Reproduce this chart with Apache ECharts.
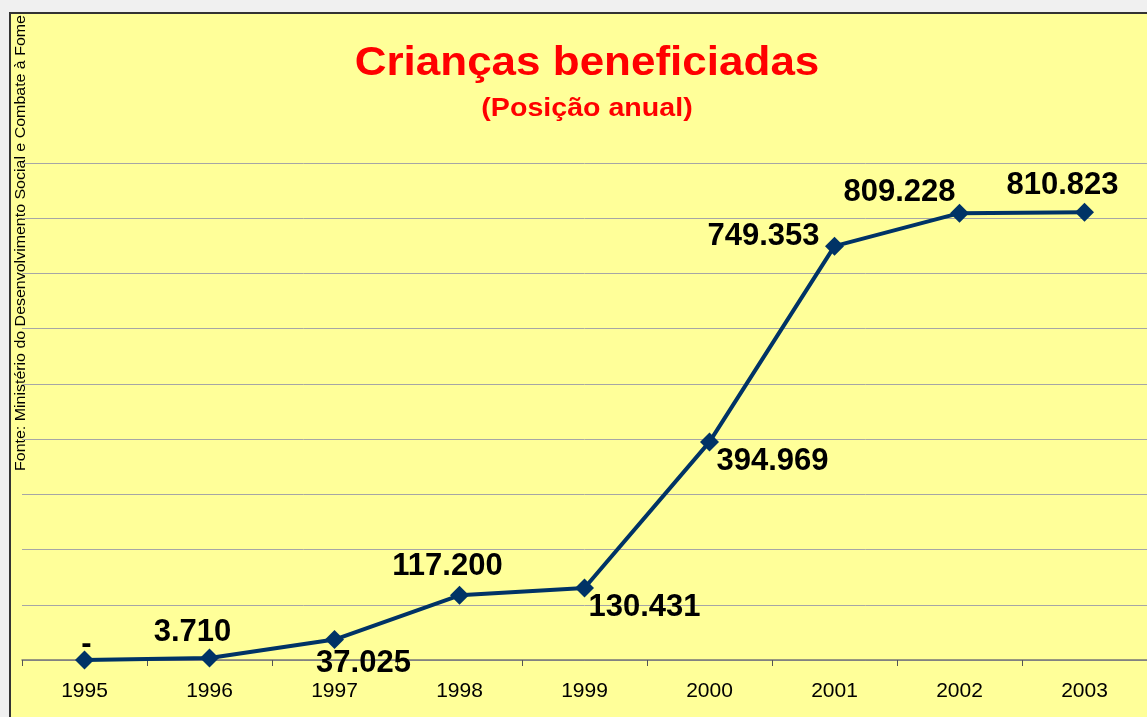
<!DOCTYPE html>
<html>
<head>
<meta charset="utf-8">
<script src="https://cdn.jsdelivr.net/npm/echarts@6/dist/echarts.min.js"></script>
<style>
    html, body { margin: 0; padding: 0; background: #f0f0f0; }
    #bg {
        position: absolute; left: 9px; top: 12px; right: 0; bottom: 0;
        background: #ffff99;
        border-left: 2px solid #333; border-top: 2px solid #333;
    }
    #chart { position: absolute; left: 0; top: 0; width: 1147px; height: 717px; }
</style>
</head>
<body>
<div id="bg"></div>
<div id="chart"></div>
<script>
// anos
const years = ['1995', '1996', '1997', '1998', '1999', '2000', '2001', '2002', '2003']
// crianças beneficiadas (posição anual)
const children = [0, 3710, 37025, 117200, 130431, 394969, 749353, 809228, 810823]
// eixo y
const yMin = 0
const yMax = 900000
const yStep = 100000

// deslocamento de cada rótulo em relação ao marcador
const labelOffsets = [[2, -16], [-17, -25], [29, 24], [-12, -29], [60, 19], [63, 20], [-71, -10], [-60, -21], [-22, -27]]

// 117200 -> "117.200", 0 -> "-"
const fmt = v => v === 0 ? '-' : String(v).replace(/\B(?=(\d{3})+(?!\d))/g, '.')

const myChart = echarts.init(document.getElementById('chart'))
const option = {
    backgroundColor: 'transparent',
    animation: false,
    grid: { left: 22, right: -4, top: 163, bottom: 57 },
    graphic: [
        {
            type: 'text', x: 587, y: 64, scaleX: 1.1,
            style: {
                text: 'Crianças beneficiadas', fill: '#ff0000',
                font: 'bold 40px "Liberation Sans", Arial, sans-serif',
                align: 'center', verticalAlign: 'middle'
            }
        },
        {
            type: 'text', x: 587, y: 109, scaleX: 1.1,
            style: {
                text: '(Posição anual)', fill: '#ff0000',
                font: 'bold 26px "Liberation Sans", Arial, sans-serif',
                align: 'center', verticalAlign: 'middle'
            }
        },
        {
            type: 'text', x: 21, y: 243, rotation: Math.PI / 2, scaleX: 1.14,
            style: {
                text: 'Fonte: Ministério do Desenvolvimento Social e Combate à Fome', fill: '#000',
                font: '14px "Liberation Sans", Arial, sans-serif',
                align: 'center', verticalAlign: 'middle'
            }
        }
    ],
    xAxis: {
        type: 'category',
        data: years,
        boundaryGap: true,
        axisLine: { lineStyle: { color: '#777', width: 1.5 } },
        axisTick: { show: true, inside: false, length: 6, lineStyle: { color: '#555' } },
        axisLabel: {
            color: '#000', fontSize: 21, margin: 21,
            fontFamily: '"Liberation Sans", Arial, sans-serif'
        }
    },
    yAxis: {
        type: 'value',
        min: yMin,
        max: yMax,
        interval: yStep,
        axisLabel: { show: false },
        axisLine: { show: false },
        axisTick: { show: false },
        splitLine: { lineStyle: { color: '#a6a6a6', width: 1 } }
    },
    series: [
        {
            type: 'line',
            data: children.map((v, i) => ({
                value: v,
                label: { offset: labelOffsets[i] }
            })),
            symbol: 'diamond',
            symbolSize: 19,
            lineStyle: { color: '#003366', width: 4 },
            itemStyle: { color: '#003366' },
            label: {
                show: true,
                position: 'inside',
                color: '#000',
                fontSize: 31,
                fontWeight: 'bold',
                fontFamily: '"Liberation Sans", Arial, sans-serif',
                formatter: p => fmt(p.value)
            }
        }
    ]
}
myChart.setOption(option)
</script>
</body>
</html>
